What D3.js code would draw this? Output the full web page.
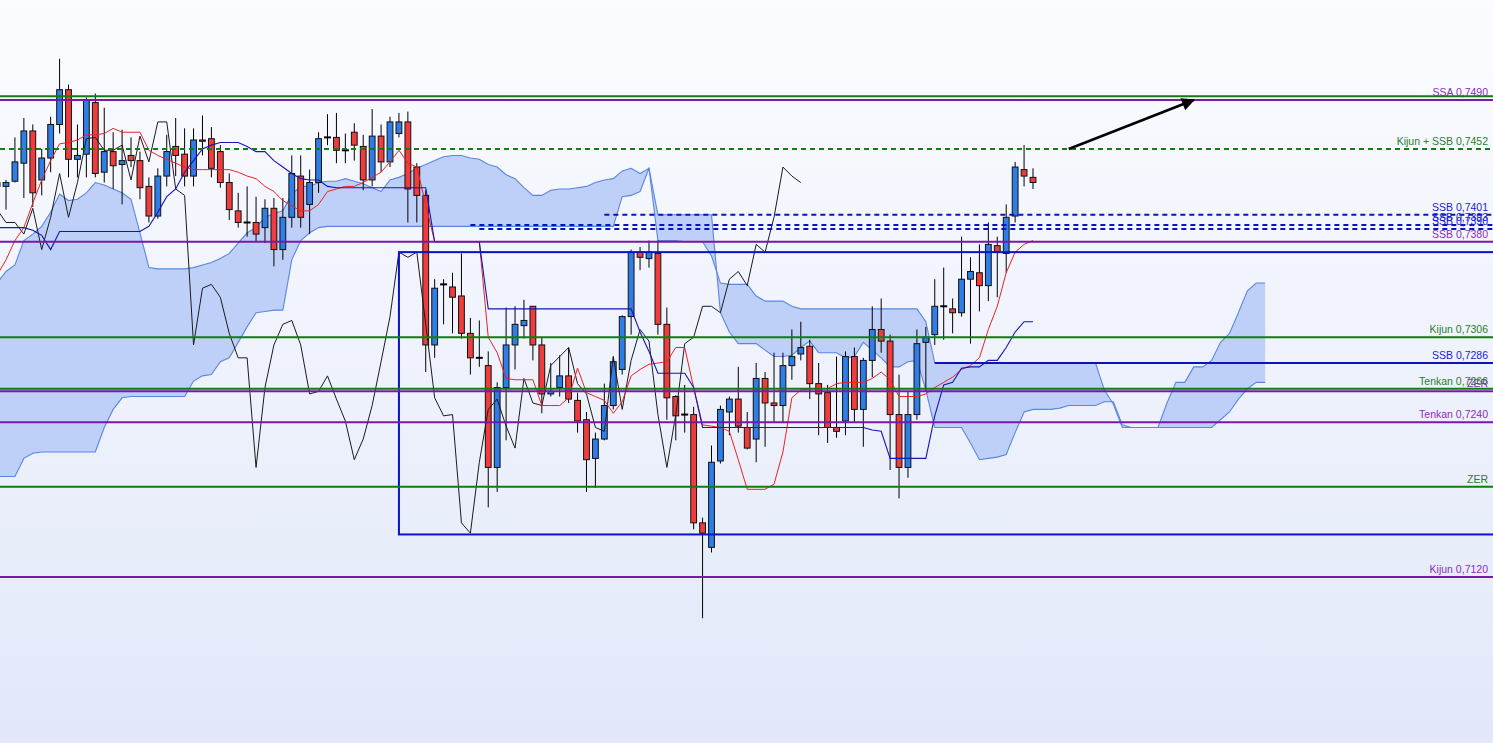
<!DOCTYPE html>
<html>
<head>
<meta charset="utf-8">
<script src="https://cdn.jsdelivr.net/npm/d3@7.9.0/dist/d3.min.js"></script>
<style>
  html, body { margin: 0; padding: 0; overflow: hidden; background: #fff; }
</style>
</head>
<body>
<div id="chart"></div>
<script>
// first visible bar sits one step left of bar 0 (partly cut off)
const FIRST_BAR = -1;
const LAG = 26; // chikou is drawn 26 bars back

// OHLC, one value per bar from -1 to 115
const opens = [
  0.7426, 0.7423, 0.7427, 0.7441, 0.7466, 0.7428, 0.7445, 0.7471, 0.7498, 0.7444, 0.7448,
  0.7488, 0.7434, 0.7450, 0.7440, 0.7447, 0.7443, 0.7423, 0.7400, 0.7431, 0.7454,
  0.7448, 0.7431, 0.7459, 0.7460, 0.7450, 0.7426, 0.7404, 0.7395, 0.7395, 0.7391,
  0.7406, 0.7374, 0.7399, 0.7431, 0.7409, 0.7426, 0.7461, 0.7461, 0.7451, 0.7465,
  0.7454, 0.7428, 0.7462, 0.7442, 0.7464, 0.7473, 0.7438, 0.7416, 0.7300, 0.7347,
  0.7345, 0.7338, 0.7309, 0.7290, 0.7284, 0.7205, 0.7267, 0.7300, 0.7315, 0.7330,
  0.7300, 0.7262, 0.7267, 0.7276, 0.7257, 0.7242, 0.7212, 0.7227, 0.7253, 0.7281,
  0.7322, 0.7372, 0.7367, 0.7371, 0.7316, 0.7260, 0.7246, 0.7246, 0.7162, 0.7143,
  0.7210, 0.7248, 0.7258, 0.7236, 0.7227, 0.7274, 0.7255, 0.7253, 0.7284, 0.7293,
  0.7299, 0.7270, 0.7263, 0.7236, 0.7241, 0.7291, 0.7250, 0.7288, 0.7312, 0.7303,
  0.7246, 0.7205, 0.7246, 0.7302, 0.7308, 0.7330, 0.7328, 0.7325, 0.7351, 0.7356,
  0.7346, 0.7377, 0.7371, 0.7400, 0.7436, 0.7430
];
const highs = [
  0.7428, 0.7428, 0.7461, 0.7476, 0.7471, 0.7452, 0.7477, 0.7522, 0.7502, 0.7471, 0.7492,
  0.7495, 0.7484, 0.7465, 0.7467, 0.7461, 0.7450, 0.7430, 0.7437, 0.7463, 0.7476,
  0.7468, 0.7468, 0.7478, 0.7469, 0.7455, 0.7433, 0.7418, 0.7423, 0.7415, 0.7413,
  0.7414, 0.7414, 0.7447, 0.7447, 0.7436, 0.7465, 0.7479, 0.7480, 0.7464, 0.7472,
  0.7463, 0.7483, 0.7471, 0.7477, 0.7480, 0.7481, 0.7441, 0.7420, 0.7351, 0.7351,
  0.7356, 0.7371, 0.7321, 0.7319, 0.7295, 0.7271, 0.7329, 0.7330, 0.7335, 0.7330,
  0.7306, 0.7286, 0.7292, 0.7298, 0.7263, 0.7248, 0.7232, 0.7270, 0.7291, 0.7323,
  0.7374, 0.7376, 0.7381, 0.7381, 0.7329, 0.7261, 0.7269, 0.7252, 0.7166, 0.7222,
  0.7253, 0.7260, 0.7283, 0.7248, 0.7286, 0.7279, 0.7294, 0.7294, 0.7312, 0.7318,
  0.7304, 0.7286, 0.7269, 0.7291, 0.7295, 0.7298, 0.7290, 0.7330, 0.7336, 0.7308,
  0.7277, 0.7264, 0.7312, 0.7314, 0.7351, 0.7360, 0.7336, 0.7384, 0.7368, 0.7378,
  0.7395, 0.7384, 0.7409, 0.7442, 0.7455, 0.7437
];
const lows = [
  0.7420, 0.7405, 0.7426, 0.7414, 0.7407, 0.7416, 0.7434, 0.7464, 0.7430, 0.7430, 0.7430,
  0.7430, 0.7426, 0.7421, 0.7409, 0.7438, 0.7413, 0.7395, 0.7398, 0.7423, 0.7431,
  0.7423, 0.7423, 0.7447, 0.7430, 0.7422, 0.7397, 0.7391, 0.7384, 0.7380, 0.7379,
  0.7361, 0.7366, 0.7391, 0.7391, 0.7386, 0.7418, 0.7455, 0.7441, 0.7441, 0.7443,
  0.7420, 0.7423, 0.7434, 0.7438, 0.7461, 0.7395, 0.7395, 0.7279, 0.7290, 0.7316,
  0.7309, 0.7305, 0.7277, 0.7283, 0.7174, 0.7186, 0.7226, 0.7281, 0.7305, 0.7288,
  0.7247, 0.7260, 0.7260, 0.7255, 0.7232, 0.7186, 0.7189, 0.7226, 0.7250, 0.7277,
  0.7308, 0.7358, 0.7360, 0.7308, 0.7242, 0.7226, 0.7232, 0.7157, 0.7088, 0.7139,
  0.7208, 0.7230, 0.7232, 0.7219, 0.7209, 0.7221, 0.7240, 0.7240, 0.7273, 0.7288,
  0.7258, 0.7230, 0.7224, 0.7228, 0.7230, 0.7240, 0.7221, 0.7275, 0.7294, 0.7203,
  0.7181, 0.7197, 0.7242, 0.7264, 0.7300, 0.7304, 0.7309, 0.7322, 0.7301, 0.7326,
  0.7334, 0.7337, 0.7356, 0.7395, 0.7423, 0.7421
];
const closes = [
  0.7423, 0.7426, 0.7442, 0.7466, 0.7418, 0.7445, 0.7471, 0.7498, 0.7444, 0.7447, 0.7490,
  0.7433, 0.7450, 0.7439, 0.7443, 0.7443, 0.7422, 0.7400, 0.7431, 0.7450, 0.7447,
  0.7431, 0.7459, 0.7458, 0.7437, 0.7426, 0.7405, 0.7395, 0.7395, 0.7386, 0.7406,
  0.7374, 0.7399, 0.7433, 0.7399, 0.7426, 0.7460, 0.7461, 0.7451, 0.7451, 0.7455,
  0.7428, 0.7462, 0.7442, 0.7473, 0.7473, 0.7421, 0.7416, 0.7300, 0.7344, 0.7347,
  0.7337, 0.7309, 0.7290, 0.7290, 0.7205, 0.7267, 0.7300, 0.7316, 0.7319, 0.7300,
  0.7262, 0.7264, 0.7276, 0.7258, 0.7241, 0.7211, 0.7227, 0.7253, 0.7287, 0.7322,
  0.7372, 0.7368, 0.7372, 0.7316, 0.7259, 0.7245, 0.7246, 0.7162, 0.7154, 0.7209,
  0.7250, 0.7258, 0.7237, 0.7220, 0.7274, 0.7255, 0.7253, 0.7284, 0.7291, 0.7298,
  0.7270, 0.7262, 0.7236, 0.7233, 0.7291, 0.7250, 0.7288, 0.7312, 0.7303, 0.7246,
  0.7205, 0.7246, 0.7301, 0.7306, 0.7330, 0.7330, 0.7325, 0.7351, 0.7357, 0.7346,
  0.7378, 0.7372, 0.7399, 0.7438, 0.7431, 0.7426
];

// Tenkan / Kijun, bars -1..115
const tenkan = [
  0.7354, 0.7366, 0.7381, 0.7391, 0.7410, 0.7428, 0.7443, 0.7456, 0.7457, 0.7459, 0.7463,
  0.7463, 0.7464, 0.7468, 0.7465, 0.7465, 0.7465, 0.7451, 0.7447, 0.7444, 0.7441,
  0.7438, 0.7436, 0.7436, 0.7436, 0.7436, 0.7436, 0.7434, 0.7431, 0.7429, 0.7423,
  0.7419, 0.7412, 0.7408, 0.7404, 0.7404, 0.7409, 0.7419, 0.7421, 0.7423, 0.7423,
  0.7426, 0.7430, 0.7434, 0.7442, 0.7451, 0.7441, 0.7438, 0.7409, 0.7380, 0.7380,
  0.7380, 0.7380, 0.7380, 0.7380, 0.7306, 0.7294, 0.7274, 0.7273, 0.7273, 0.7273,
  0.7253, 0.7253, 0.7253, 0.7259, 0.7282, 0.7263, 0.7260, 0.7257, 0.7247, 0.7256,
  0.7276, 0.7281, 0.7285, 0.7286, 0.7287, 0.7298, 0.7298, 0.7267, 0.7238, 0.7237,
  0.7236, 0.7233, 0.7211, 0.7188, 0.7188, 0.7188, 0.7192, 0.7217, 0.7259, 0.7265,
  0.7266, 0.7266, 0.7266, 0.7270, 0.7271, 0.7271, 0.7271, 0.7274, 0.7279, 0.7273,
  0.7260, 0.7260, 0.7260, 0.7262, 0.7267, 0.7271, 0.7275, 0.7281, 0.7284, 0.7290,
  0.7312, 0.7330, 0.7356, 0.7372, 0.7378, 0.7381
];
const kijun = [
  0.7391, 0.7391, 0.7391, 0.7391, 0.7389, 0.7385, 0.7374, 0.7388, 0.7388, 0.7388, 0.7388,
  0.7388, 0.7388, 0.7388, 0.7388, 0.7388, 0.7388, 0.7392, 0.7403, 0.7415, 0.7421,
  0.7434, 0.7443, 0.7452, 0.7455, 0.7457, 0.7457, 0.7457, 0.7454, 0.7450, 0.7450,
  0.7443, 0.7438, 0.7433, 0.7429, 0.7428, 0.7428, 0.7423, 0.7422, 0.7422, 0.7422,
  0.7422, 0.7422, 0.7422, 0.7422, 0.7422, 0.7422, 0.7422, 0.7422, 0.7380, 0.7380,
  0.7380, 0.7380, 0.7380, 0.7380, 0.7328, 0.7328, 0.7328, 0.7328, 0.7328, 0.7328,
  0.7328, 0.7328, 0.7328, 0.7328, 0.7328, 0.7328, 0.7328, 0.7328, 0.7328, 0.7328,
  0.7328, 0.7310, 0.7295, 0.7278, 0.7278, 0.7278, 0.7278, 0.7267, 0.7236, 0.7236,
  0.7236, 0.7236, 0.7236, 0.7236, 0.7236, 0.7236, 0.7236, 0.7236, 0.7236, 0.7236,
  0.7236, 0.7236, 0.7236, 0.7236, 0.7236, 0.7236, 0.7236, 0.7234, 0.7233, 0.7212,
  0.7212, 0.7212, 0.7212, 0.7212, 0.7245, 0.7269, 0.7271, 0.7282, 0.7283, 0.7283,
  0.7288, 0.7288, 0.7298, 0.7310, 0.7318, 0.7318
];

// cloud edges as plotted (already shifted forward), bars -1..141
const spanA = [
  0.7348, 0.7357, 0.7362, 0.7381, 0.7386, 0.7392, 0.7403, 0.7417, 0.7412, 0.7413, 0.7418,
  0.7426, 0.7424, 0.7421, 0.7418, 0.7413, 0.7387, 0.7360, 0.7359, 0.7359, 0.7359,
  0.7359, 0.7360, 0.7362, 0.7364, 0.7367, 0.7371, 0.7379, 0.7387, 0.7391, 0.7399,
  0.7402, 0.7404, 0.7417, 0.7423, 0.7423, 0.7426, 0.7427, 0.7427, 0.7429, 0.7427,
  0.7425, 0.7422, 0.7419, 0.7428, 0.7430, 0.7433, 0.7437, 0.7440, 0.7443, 0.7446,
  0.7447, 0.7447, 0.7445, 0.7444, 0.7440, 0.7438, 0.7432, 0.7429, 0.7422, 0.7416,
  0.7416, 0.7420, 0.7421, 0.7421, 0.7422, 0.7423, 0.7426, 0.7428, 0.7429, 0.7435,
  0.7437, 0.7433, 0.7437, 0.7381, 0.7381, 0.7381, 0.7380, 0.7380, 0.7380, 0.7369,
  0.7348, 0.7347, 0.7347, 0.7347, 0.7338, 0.7334, 0.7334, 0.7334, 0.7330, 0.7328,
  0.7328, 0.7328, 0.7328, 0.7328, 0.7328, 0.7328, 0.7328, 0.7328, 0.7328, 0.7328,
  0.7328, 0.7328, 0.7328, 0.7318, 0.7286, 0.7286, 0.7286, 0.7286, 0.7286, 0.7286,
  0.7286, 0.7286, 0.7286, 0.7286, 0.7286, 0.7286, 0.7286, 0.7286, 0.7286, 0.7286,
  0.7286, 0.7286, 0.7286, 0.7265, 0.7254, 0.7236, 0.7236, 0.7236, 0.7236, 0.7236,
  0.7255, 0.7271, 0.7271, 0.7283, 0.7283, 0.7288, 0.7302, 0.7309, 0.7325, 0.7342,
  0.7348, 0.7348
];
const spanB = [
  0.7198, 0.7198, 0.7198, 0.7212, 0.7216, 0.7217, 0.7217, 0.7217, 0.7217, 0.7217, 0.7217,
  0.7217, 0.7236, 0.7250, 0.7259, 0.7260, 0.7260, 0.7260, 0.7260, 0.7260, 0.7260,
  0.7260, 0.7272, 0.7276, 0.7277, 0.7287, 0.7290, 0.7302, 0.7314, 0.7325, 0.7326,
  0.7327, 0.7327, 0.7366, 0.7381, 0.7387, 0.7391, 0.7392, 0.7392, 0.7392, 0.7392,
  0.7392, 0.7392, 0.7392, 0.7392, 0.7392, 0.7392, 0.7392, 0.7392, 0.7392, 0.7392,
  0.7392, 0.7392, 0.7392, 0.7392, 0.7392, 0.7392, 0.7392, 0.7392, 0.7392, 0.7392,
  0.7392, 0.7392, 0.7392, 0.7392, 0.7392, 0.7392, 0.7392, 0.7392, 0.7392, 0.7415,
  0.7416, 0.7419, 0.7437, 0.7401, 0.7401, 0.7401, 0.7401, 0.7401, 0.7401, 0.7401,
  0.7325, 0.7310, 0.7301, 0.7301, 0.7301, 0.7296, 0.7291, 0.7291, 0.7292, 0.7298,
  0.7303, 0.7294, 0.7294, 0.7294, 0.7290, 0.7291, 0.7302, 0.7296, 0.7290, 0.7283,
  0.7283, 0.7287, 0.7288, 0.7265, 0.7236, 0.7236, 0.7236, 0.7236, 0.7224, 0.7211,
  0.7212, 0.7213, 0.7215, 0.7232, 0.7248, 0.7250, 0.7250, 0.7250, 0.7251, 0.7253,
  0.7253, 0.7253, 0.7253, 0.7256, 0.7256, 0.7238, 0.7236, 0.7236, 0.7236, 0.7236,
  0.7236, 0.7236, 0.7236, 0.7236, 0.7236, 0.7236, 0.7242, 0.7248, 0.7258, 0.7266,
  0.7271, 0.7271
];

// horizontal levels drawn on the chart
const levelValues = [0.7493, 0.7490, 0.7452, 0.7401, 0.7393, 0.7390, 0.7380, 0.7306, 0.7286, 0.7266, 0.7264, 0.7240, 0.7190, 0.7120];
const levelLabels = ["", "SSA 0,7490", "Kijun + SSB 0,7452", "SSB 0,7401", "SSB 0,7393", "SSB 0,7390", "SSB 0,7380",
  "Kijun 0,7306", "SSB 0,7286", "Tenkan 0,7266", "ZER", "Tenkan 0,7240", "ZER", "Kijun 0,7120"];
const levelKinds = ["green", "purple", "greenDash", "blueDash", "blueDash", "blueDash", "purple",
  "green", "blue", "green", "purple", "purple", "green", "purple"];
const levelFromBar = [null, null, null, 67, 52, 53, null, null, 104, null, null, null, null, null];

// box drawn from bar 44 onwards
const boxTop = 0.7372;
const boxBottom = 0.7153;
const boxFromBar = 44;

// arrow: [bar, price]
const arrowFrom = [119, 0.7452];
const arrowTo = [133, 0.7490];

const styles = {
  green:     { stroke: "#117c11", text: "#2b7d2b", dash: null },
  greenDash: { stroke: "#117c11", text: "#2b7d2b", dash: "5,4" },
  purple:    { stroke: "#7a18a8", text: "#8a2cb8", dash: null },
  blue:      { stroke: "#0a14b8", text: "#1a22d0", dash: null },
  blueDash:  { stroke: "#0a14b8", text: "#1a22d0", dash: "5,4" }
};

const width = 1493;
const height = 743;

const x = d3.scaleLinear().domain([0, 115]).range([6, 1033]);
const y = d3.scaleLinear().domain([0.7120, 0.7452]).range([577, 149]);

const svg = d3.select("#chart").append("svg")
  .attr("width", width)
  .attr("height", height);

const defs = svg.append("defs");
const bg = defs.append("linearGradient")
  .attr("id", "bg").attr("x1", 0).attr("y1", 0).attr("x2", 0).attr("y2", 1);
bg.append("stop").attr("offset", "0%").attr("stop-color", "#fbfcff");
bg.append("stop").attr("offset", "100%").attr("stop-color", "#e2e8f9");

defs.append("marker")
  .attr("id", "head")
  .attr("viewBox", "0 -5 10 10")
  .attr("refX", 9)
  .attr("refY", 0)
  .attr("markerUnits", "userSpaceOnUse")
  .attr("markerWidth", 16)
  .attr("markerHeight", 13)
  .attr("orient", "auto")
  .append("path")
  .attr("d", "M0,-5L10,0L0,5Z")
  .attr("fill", "#000");

svg.append("rect").attr("width", width).attr("height", height).attr("fill", "url(#bg)");

// build rows
const bars = opens.map((o, k) => ({ i: k + FIRST_BAR, o, h: highs[k], l: lows[k], c: closes[k] }));
const cloud = spanA.map((a, k) => ({ i: k + FIRST_BAR, a, b: spanB[k] }));

// cloud
svg.append("path")
  .datum(cloud)
  .attr("d", d3.area().x((d) => x(d.i)).y0((d) => y(d.b)).y1((d) => y(d.a)))
  .attr("fill", "#bfd0f8");

["a", "b"].forEach((key) => {
  svg.append("path")
    .datum(cloud)
    .attr("d", d3.line().x((d) => x(d.i)).y((d) => y(d[key])))
    .attr("fill", "none")
    .attr("stroke", "#5a86e2")
    .attr("stroke-width", 1.1);
});

// candles
const candle = svg.append("g").selectAll("g").data(bars).enter().append("g");

candle.append("line")
  .attr("x1", (d) => x(d.i)).attr("x2", (d) => x(d.i))
  .attr("y1", (d) => y(d.h)).attr("y2", (d) => y(d.l))
  .attr("stroke", "#000").attr("stroke-width", 1);

candle.filter((d) => d.o !== d.c)
  .append("rect")
  .attr("x", (d) => x(d.i) - 2.9)
  .attr("y", (d) => y(Math.max(d.o, d.c)))
  .attr("width", 5.8)
  .attr("height", (d) => Math.max(1, y(Math.min(d.o, d.c)) - y(Math.max(d.o, d.c))))
  .attr("fill", (d) => (d.c > d.o ? "#2f7de6" : "#ef3d3d"))
  .attr("stroke", "#111")
  .attr("stroke-width", 1);

// doji
candle.filter((d) => d.o === d.c)
  .append("line")
  .attr("x1", (d) => x(d.i) - 3.5).attr("x2", (d) => x(d.i) + 3.5)
  .attr("y1", (d) => y(d.o)).attr("y2", (d) => y(d.o))
  .attr("stroke", "#000").attr("stroke-width", 2);

// chikou = closes drawn LAG bars back
svg.append("path")
  .datum(bars)
  .attr("d", d3.line().x((d) => x(d.i - LAG)).y((d) => y(d.c)))
  .attr("fill", "none")
  .attr("stroke", "#1b1b1b")
  .attr("stroke-width", 1);

// tenkan & kijun
const lineOf = (arr) => arr.map((v, k) => ({ i: k + FIRST_BAR, v }));
svg.append("path")
  .datum(lineOf(tenkan))
  .attr("d", d3.line().x((d) => x(d.i)).y((d) => y(d.v)))
  .attr("fill", "none")
  .attr("stroke", "#ec2222")
  .attr("stroke-width", 1);

svg.append("path")
  .datum(lineOf(kijun))
  .attr("d", d3.line().x((d) => x(d.i)).y((d) => y(d.v)))
  .attr("fill", "none")
  .attr("stroke", "#1515b8")
  .attr("stroke-width", 1.1);

// box
svg.append("rect")
  .attr("x", x(boxFromBar))
  .attr("y", y(boxTop))
  .attr("width", width + 20 - x(boxFromBar))
  .attr("height", y(boxBottom) - y(boxTop))
  .attr("fill", "none")
  .attr("stroke", "#0a14c0")
  .attr("stroke-width", 2);

// levels
const levels = levelValues.map((v, k) => ({ v, label: levelLabels[k], kind: levelKinds[k], from: levelFromBar[k] }));

svg.append("g").selectAll("line").data(levels).enter()
  .append("line")
  .attr("x1", (d) => (d.from === null ? 0 : x(d.from)))
  .attr("x2", width)
  .attr("y1", (d) => y(d.v)).attr("y2", (d) => y(d.v))
  .attr("stroke", (d) => styles[d.kind].stroke)
  .attr("stroke-width", 2)
  .attr("stroke-dasharray", (d) => styles[d.kind].dash);

svg.append("g").selectAll("text").data(levels.filter((d) => d.label)).enter()
  .append("text")
  .attr("x", 1488)
  .attr("y", (d) => y(d.v) - 4)
  .attr("text-anchor", "end")
  .attr("font-family", "'Liberation Sans', Arial, sans-serif")
  .attr("font-size", "10.5px")
  .attr("fill", (d) => styles[d.kind].text)
  .text((d) => d.label);

// arrow
svg.append("line")
  .attr("x1", x(arrowFrom[0])).attr("y1", y(arrowFrom[1]))
  .attr("x2", x(arrowTo[0])).attr("y2", y(arrowTo[1]))
  .attr("stroke", "#000")
  .attr("stroke-width", 2.5)
  .attr("marker-end", "url(#head)");
</script>
</body>
</html>
